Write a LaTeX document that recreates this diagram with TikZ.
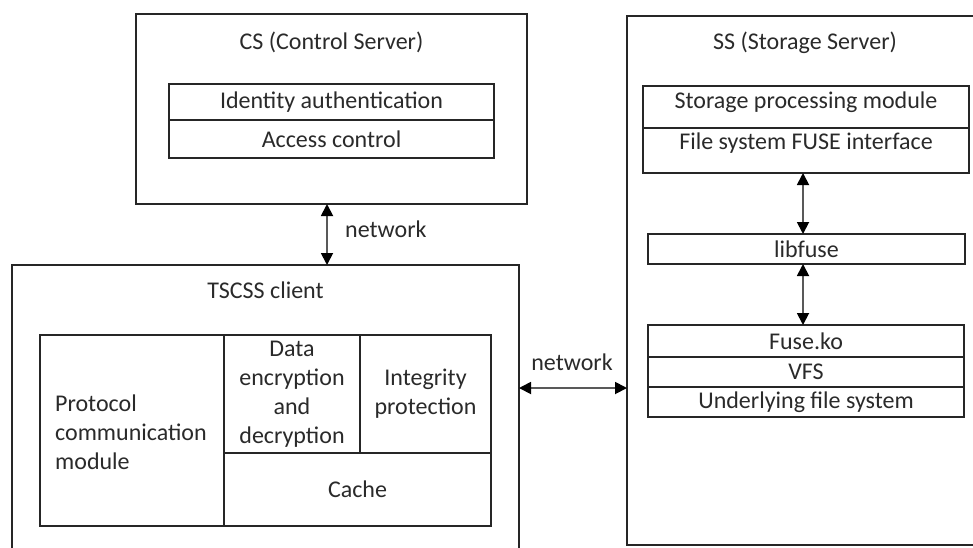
\documentclass[tikz,border=0pt]{standalone}
\usepackage{fontspec}
\setmainfont{Carlito}
\usetikzlibrary{arrows.meta,calc}
\definecolor{edge}{HTML}{262626}
\definecolor{ink}{HTML}{2A2A2A}
\begin{document}
\begin{tikzpicture}[x=1pt,y=-1pt,
  box/.style={draw=edge,line width=1.4pt,minimum width=#1,inner sep=0pt,outer sep=0pt},
  txt/.style={text=ink,font=\fontsize{24}{29}\selectfont,inner sep=0pt},
  arr/.style={draw=black!65,line width=1.8pt,{Triangle[length=12pt,width=12pt,color=black]}-{Triangle[length=12pt,width=12pt,color=black]}}
]
\useasboundingbox (0,0) rectangle (973,547);
\clip (0,0) rectangle (973,547);
\fill[white] (0,0) rectangle (973,547);

% CS
\node[box=391pt,minimum height=190pt] (cs) at (331.5,109) {};
\node[txt] (cstitle) at (331.5,42) {CS (Control Server)};
\node[box=325pt,minimum height=36pt,txt] (ida) at (331.5,102) {Identity authentication};
\node[box=325pt,minimum height=38pt,txt] (acc) at (331.5,139) {Access control};

% TSCSS client
\node[box=507pt,minimum height=335pt] (tscss) at (265.5,432.5) {};
\node[txt] (tstitle) at (265.5,290) {TSCSS client};
\node[box=184pt,minimum height=191pt] (proto) at (132,430.5) {};
\node[txt,anchor=west,align=left] (prototext) at (55,432) {Protocol\\communication\\module};
\node[box=136pt,minimum height=118pt,txt,align=center] (enc) at (292,394) {Data\\encryption\\and\\decryption};
\node[box=131pt,minimum height=118pt,txt,align=center] (integ) at (425.5,394) {Integrity\\protection};
\node[box=267pt,minimum height=73pt,txt] (cache) at (357.5,489.5) {Cache};

% SS
\node[box=373pt,minimum height=529pt] (ss) at (813.5,280.5) {};
\node[txt] (sstitle) at (805,43) {SS (Storage Server)};
\node[box=326pt,minimum height=42pt] (spm) at (806,107) {};
\node[txt] (spmtext) at (806,102) {Storage processing module};
\node[box=326pt,minimum height=45pt] (fuse) at (806,150.5) {};
\node[txt] (fusetext) at (806,143) {File system FUSE interface};
\node[box=317pt,minimum height=30pt,txt] (libfuse) at (806.5,249) {libfuse};
\node[box=316pt,minimum height=32pt,txt] (fuseko) at (806,341) {Fuse.ko};
\node[box=316pt,minimum height=30pt,txt] (vfs) at (806,372) {VFS};
\node[box=316pt,minimum height=30pt,txt] (ufs) at (806,402) {Underlying file system};

% arrows
\draw[arr] ([xshift=-3pt]fuse.south) -- ([xshift=-3.5pt]libfuse.north);
\draw[arr] ([xshift=-3.5pt]libfuse.south) -- ([xshift=-3pt]fuseko.north);
\draw[arr] ([xshift=-4.5pt]cs.south) -- ([xshift=-4.5pt]cs.south |- tscss.north);
\node[txt,anchor=west] (net1) at (345,229) {network};
\coordinate (hl) at (0,388);
\draw[arr] (tscss.east |- hl) -- (ss.west |- hl);
\node[txt] (net2) at (572,362) {network};
\end{tikzpicture}
\end{document}
